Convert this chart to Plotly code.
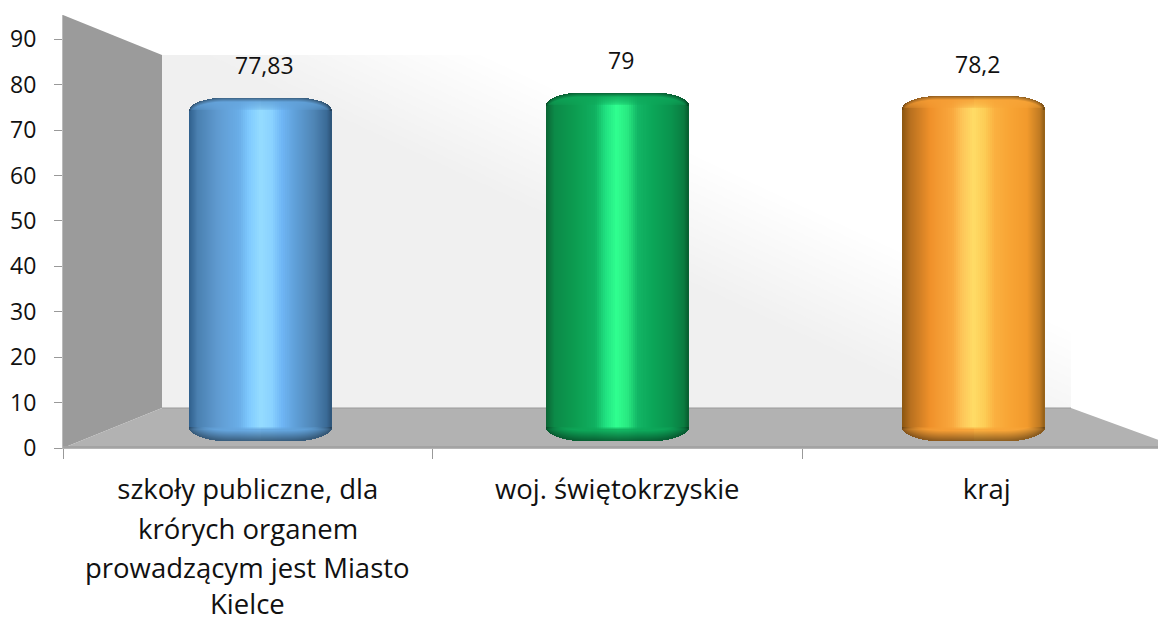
import plotly.graph_objects as go

# ---- data ----
category_lines = [
    ["szkoły publiczne, dla", "krórych organem", "prowadzącym jest Miasto", "Kielce"],
    ["woj. świętokrzyskie"],
    ["kraj"],
]
values = [77.83, 79, 78.2]
value_labels = ["77,83", "79", "78,2"]
y_ticks = [0, 10, 20, 30, 40, 50, 60, 70, 80, 90]

# horizontal shading stops of each cylinder (position across the bar, colour)
stops_pos = [0, .06, .2, .35, .42, .5, .58, .65, .75, .88, .97, 1]
blue = ["#2f5f8c", "#4a80b0", "#5f9ad0", "#6aaee8", "#7fcaff", "#95dcff", "#8ad2ff", "#6fb6f5", "#5f9fd8", "#4f85b5", "#3a6a96", "#2d5578"]
green = ["#0b6434", "#0c8a48", "#0c9c50", "#10b060", "#20e080", "#30ff90", "#28e880", "#12b565", "#0ba658", "#0a944e", "#0a7c40", "#085e30"]
orange = ["#8a5510", "#b8701f", "#f0912a", "#f9a83e", "#fdc558", "#ffdc66", "#fdcc55", "#fab040", "#f8a535", "#f29a2c", "#c07a22", "#946018"]
palettes = [blue, green, orange]

# ---- geometry (pixels) ----
W, H = 1158, 618
L, T, B = 63, 15, 448
PW, PH = W - L, B - T
BAR_PX = 4.405      # pixels per unit on the perspective bar scale
BAR_BASE = 441      # pixel row of the bars' zero
CAT_PX = 369.5      # category width on the labelled axis
BAR_STEP = 356.5    # spacing of bars
BAR_MID = 617       # pixel column of middle bar
HALF = 71

def px(x): return (x - L) / PW
def py(y): return (B - y) / PH

def hex2(c): return [int(c[i:i + 2], 16) for i in (1, 3, 5)]
def rgb(c): return "rgb(%d,%d,%d)" % tuple(round(min(255, max(0, v))) for v in c)
def mix(a, b, w): return [p + (q - p) * w for p, q in zip(a, b)]

def colour_at(pal, t):
    for i in range(len(stops_pos) - 1):
        if t <= stops_pos[i + 1]:
            w = (t - stops_pos[i]) / (stops_pos[i + 1] - stops_pos[i])
            return mix(hex2(pal[i]), hex2(pal[i + 1]), w)
    return hex2(pal[-1])

def corner_drop(dx, cw, ch):
    over = abs(dx) - (HALF - cw)
    if over <= 0:
        return 0.0
    over = min(over / cw, 1.0)
    return ch * (1 - (1 - over ** 2) ** 0.5)

def cylinder(i, value, pal):
    xs, bases, heights, colours, widths = [], [], [], [], []
    TOP_H, BOT_H = 13, 14
    cx = i
    dx = -HALF + 0.5
    while dx < HALF:
        inner = abs(dx) < HALF - 42
        step = 2 if inner else 1
        t = (dx + HALF) / (2 * HALF)
        c = colour_at(pal, t)
        mid = colour_at(pal, 0.2 if t < .5 else .8)
        mid = mix(mid, colour_at(pal, .35), .5)
        d_top = corner_drop(dx, 36, TOP_H)
        d_bot = corner_drop(dx, 42, BOT_H)

        def add(depth0, depth1, colour):
            top = value - depth0 / BAR_PX
            bottom = value - depth1 / BAR_PX
            xs.append(cx + dx / BAR_STEP)
            bases.append(bottom)
            heights.append(top - bottom)
            colours.append(rgb(colour))
            widths.append((step + 1) / BAR_STEP)

        # cap
        for k in range(0, TOP_H):
            if k + 1 <= d_top:
                continue
            start = max(k, d_top)
            dist = (k + .5) - d_top
            blend = max(0, 1 - (k + 1) / TOP_H) ** .5
            col = mix(c, mid, blend)
            f = .6 + .4 * min(1, max(dist, 0) / 4)
            add(start, k + 1, [v * f for v in col])
        # body
        full = value * BAR_PX
        add(TOP_H, full - BOT_H, c)
        # bottom band
        for k in range(0, BOT_H):
            d0 = full - BOT_H + k
            d1 = d0 + 1
            edge = full - d_bot
            if d0 >= edge:
                continue
            dist = edge - min(d1, edge)
            f = .58 + .42 * min(1, dist / 10)
            col = mix(c, mid, .85 * min(1, (k + 1) / 3))
            add(d0, min(d1, edge), [v * f for v in col])
        dx += step
    return xs, bases, heights, colours, widths

first_lines = [c[0] for c in category_lines]
FONT = "Open Sans"
TEXT = "#111111"

fig = go.Figure()

# transparent series on the labelled category axis (carries the tick labels)
fig.add_trace(go.Bar(x=first_lines, y=values,
                     marker=dict(color="rgba(0,0,0,0)", line=dict(width=0)),
                     hoverinfo="skip", showlegend=False, xaxis="x", yaxis="y"))

for i, (v, pal) in enumerate(zip(values, palettes)):
    xs, bases, heights, colours, widths = cylinder(i, v, pal)
    fig.add_trace(go.Bar(x=xs, y=heights, base=bases, width=widths,
                         marker=dict(color=colours, line=dict(width=0)),
                         hoverinfo="skip", showlegend=False, xaxis="x2", yaxis="y2"))

# ---- walls and floor ----
def poly(points, fill, line=None):
    path = "M " + " L ".join(f"{px(x):.5f},{py(y):.5f}" for x, y in points) + " Z"
    return dict(type="path", path=path, xref="paper", yref="paper", fillcolor=fill,
                line=dict(width=1 if line else 0, color=line or "rgba(0,0,0,0)"), layer="below")

WX0, WX1, WY0, WY1 = 162, 1071, 55, 408
shapes = [poly([(WX0, WY0), (WX1, WY0), (WX1, WY1), (WX0, WY1)], "#f0f0f0")]
SLOPE = 0.47
LEVELS = 15
for k in range(1, LEVELS + 1):
    xk = 190 + (480 - 190) * k / LEVELS
    grey = 240 + k * 15 / LEVELS
    yk = WY0 + SLOPE * (WX1 - xk)
    pts = [(xk, WY0), (WX1, WY0)]
    if yk <= WY1:
        pts.append((WX1, yk))
    else:
        pts += [(WX1, WY1), (xk + (WY1 - WY0) / SLOPE, WY1)]
    shapes.append(poly(pts, rgb([grey] * 3)))
shapes += [
    poly([(L, T), (WX0, WY0), (WX0, WY1), (L, B)], "#9b9b9b"),
    poly([(L, B), (WX0, WY1), (WX1, WY1), (W + 1, 440), (W + 1, B)], "#b2b2b2"),
    poly([(L, 446), (W + 1, 446), (W + 1, 449), (L, 449)], "#a3a3a3"),
    poly([(WX0, WY1 - .5), (WX1, WY1 - .5), (WX1, WY1 + .5), (WX0, WY1 + .5)], "#9a9a9a"),
]

# ---- text ----
annotations = []
for i, (v, lab) in enumerate(zip(values, value_labels)):
    annotations.append(dict(x=i, y=v, xref="x2", yref="y2", text=lab, showarrow=False,
                            xshift=4, yshift=33, font=dict(family=FONT, size=23, color=TEXT)))
extra_rows = [528, 567, 603]
for i, lines in enumerate(category_lines):
    for row, line in zip(extra_rows, lines[1:]):
        annotations.append(dict(x=i, xref="x", y=py(row), yref="paper", yanchor="middle",
                                text=line, showarrow=False,
                                font=dict(family=FONT, size=27.5, color=TEXT)))

bar_left = 1 - (BAR_MID - L) / BAR_STEP
bar_right = 1 + (W - BAR_MID) / BAR_STEP

fig.update_layout(
    width=W, height=H,
    margin=dict(l=L, r=0, t=T, b=H - B, pad=0),
    autosize=False,
    paper_bgcolor="white", plot_bgcolor="rgba(0,0,0,0)",
    barmode="overlay", bargap=0, showlegend=False,
    shapes=shapes, annotations=annotations,
    font=dict(family=FONT, size=23, color=TEXT),
    xaxis=dict(type="category", categoryorder="array", categoryarray=first_lines,
               range=[-0.5, -0.5 + PW / CAT_PX], tickson="boundaries", ticks="outside",
               ticklen=10, tickcolor="#999999", tickwidth=1, showgrid=False, zeroline=False,
               showline=True, linecolor="#b5b5b5", ticklabelstandoff=17,
               tickfont=dict(family=FONT, size=27.5, color=TEXT), tickangle=0),
    yaxis=dict(range=[0, PH / 4.542], tickvals=y_ticks, ticks="outside", ticklen=8,
               tickcolor="#999999", showgrid=False, zeroline=False, showline=True,
               ticklabelstandoff=13,
               linecolor="#bbbbbb", tickfont=dict(family=FONT, size=23, color=TEXT)),
    xaxis2=dict(overlaying="x", anchor="y2", range=[bar_left, bar_right], visible=False),
    yaxis2=dict(overlaying="y", anchor="x2",
                range=[(BAR_BASE - B) / BAR_PX, (BAR_BASE - T) / BAR_PX], visible=False),
)

fig.write_html("out.html", config=dict(displayModeBar=False),
               post_script="document.body.style.margin='0';document.documentElement.style.overflow='hidden';")
